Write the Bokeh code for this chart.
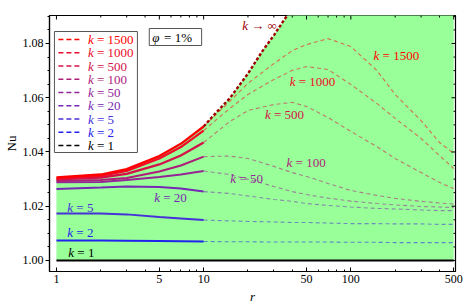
from bokeh.plotting import figure
from bokeh.models import (Range1d, LinearScale, FixedTicker, PrintfTickFormatter,
                          ColumnDataSource)
from bokeh.core.properties import value
from bokeh.embed import file_html
from bokeh.resources import INLINE

FONT = "Liberation Serif"

# ---------------- data ----------------
K_VALUES = [1500, 1000, 500, 100, 50, 20, 5, 2, 1]
K_COLORS = ["#FF0000", "#EE0A28", "#D41048", "#AE1C7A", "#952496",
            "#7628B4", "#4630D8", "#2222EE", "#000000"]

R_SOLID = [1, 2, 3, 5, 7, 10]
NU_1500_SOLID = [1.0306, 1.0317, 1.0337, 1.0385, 1.0430, 1.0494]
NU_1000_SOLID = [1.0302, 1.0312, 1.0330, 1.0376, 1.0418, 1.0479]
NU_500_SOLID = [1.0299, 1.0306, 1.0319, 1.0354, 1.0387, 1.0435]
NU_100_SOLID = [1.0293, 1.0297, 1.0304, 1.0328, 1.0350, 1.0383]
NU_50_SOLID = [1.0288, 1.0289, 1.0297, 1.0308, 1.0317, 1.0330]
NU_20_SOLID = [1.0264, 1.0269, 1.0273, 1.0271, 1.0265, 1.0254]
NU_5_SOLID = [1.0173, 1.0173, 1.0170, 1.0160, 1.0155, 1.0149]
NU_2_SOLID = [1.0074, 1.0074, 1.0073, 1.0072, 1.0071, 1.0070]

R_DASH = [10, 15, 20, 30, 40, 50, 70, 100, 150, 200, 300, 400, 500]
NU_1500_DASH = [1.0494, 1.0586, 1.0653, 1.0726, 1.0774, 1.0796, 1.0818, 1.0789, 1.0701, 1.0612, 1.0516, 1.0435, 1.0395]
NU_1000_DASH = [1.0479, 1.0560, 1.0612, 1.0667, 1.0701, 1.0715, 1.0704, 1.0649, 1.0579, 1.0524, 1.0450, 1.0387, 1.0339]
NU_500_DASH = [1.0435, 1.0512, 1.0553, 1.0575, 1.0583, 1.0568, 1.0527, 1.0476, 1.0420, 1.0376, 1.0324, 1.0288, 1.0265]
NU_100_DASH = [1.0383, 1.0385, 1.0376, 1.0347, 1.0324, 1.0310, 1.0284, 1.0258, 1.0240, 1.0229, 1.0218, 1.0212, 1.0208]
NU_50_DASH = [1.0330, 1.0317, 1.0299, 1.0273, 1.0254, 1.0243, 1.0230, 1.0219, 1.0210, 1.0205, 1.0199, 1.0197, 1.0195]
NU_20_DASH = [1.0254, 1.0247, 1.0238, 1.0225, 1.0218, 1.0210, 1.0203, 1.0197, 1.0192, 1.0190, 1.0186, 1.0184, 1.0184]
NU_5_DASH = [1.0149, 1.0146, 1.0144, 1.0142, 1.0140, 1.0140, 1.0138, 1.0136, 1.0136, 1.0135, 1.0135, 1.0133, 1.0133]
NU_2_DASH = [1.0070, 1.0069, 1.0069, 1.0068, 1.0068, 1.0068, 1.0068, 1.0067, 1.0067, 1.0066, 1.0066, 1.0066, 1.0066]

R_K1 = [1, 500]
NU_K1 = [1.0, 1.0]

R_INF = [10, 12, 15, 20, 25, 30, 35, 40]
NU_INF = [1.0494, 1.0542, 1.0597, 1.0689, 1.0771, 1.0830, 1.0885, 1.0929]

X_TICKS = [1, 5, 10, 50, 100, 500]
X_MINOR = [2, 3, 4, 6, 7, 8, 9, 20, 30, 40, 60, 70, 80, 90, 200, 300, 400]
Y_TICKS = [1.00, 1.02, 1.04, 1.06, 1.08]
Y_MINOR = [1.005, 1.01, 1.015, 1.025, 1.03, 1.035, 1.045, 1.05, 1.055,
           1.065, 1.07, 1.075, 1.085, 1.09]

# curve labels: text after the italic k, left edge r, vertical centre Nu
LABEL_TEXT = ["= 1500", "= 1000", "= 500", "= 100", "= 50", "= 20", "= 5", "= 2", "= 1", "\u2192 \u221e"]
LABEL_R = [142.7, 38.4, 26.07, 36.6, 15.18, 4.62, 1.185, 1.185, 1.204, 18.27]
LABEL_NU = [1.0756, 1.0660, 1.0538, 1.0361, 1.0302, 1.0232, 1.0195, 1.0103, 1.0029, 1.0866]
LABEL_COLORS = K_COLORS + ["#A00000"]

SOLID = {1500: NU_1500_SOLID, 1000: NU_1000_SOLID, 500: NU_500_SOLID, 100: NU_100_SOLID,
         50: NU_50_SOLID, 20: NU_20_SOLID, 5: NU_5_SOLID, 2: NU_2_SOLID}
DASH = {1500: NU_1500_DASH, 1000: NU_1000_DASH, 500: NU_500_DASH, 100: NU_100_DASH,
        50: NU_50_DASH, 20: NU_20_DASH, 5: NU_5_DASH, 2: NU_2_DASH}
COLOR = dict(zip(K_VALUES, K_COLORS))

# ---------------- figure ----------------
FW, FH = 411, 256
p = figure(width=463, height=306, x_axis_type="log",
           x_range=Range1d(0.897, 514), y_range=Range1d(0.99594, 1.09032),
           output_backend="svg", toolbar_location=None,
           min_border_left=44, min_border_right=8, min_border_top=15, min_border_bottom=35,
           background_fill_color="white", border_fill_color="white")
p.xgrid.visible = False
p.ygrid.visible = False
p.outline_line_color = "black"
p.outline_line_width = 1.2

p.extra_x_ranges = {"px": Range1d(0, FW)}
p.extra_y_ranges = {"px": Range1d(FH, 0)}
p.extra_x_scales = {"px": LinearScale()}
p.extra_y_scales = {"px": LinearScale()}

# green region
fill_r = R_SOLID + R_INF[1:] + [500]
fill_top = NU_1500_SOLID + NU_INF[1:] + [NU_INF[-1]]
p.varea(x=fill_r, y1=[1.0] * len(fill_r), y2=fill_top, fill_color="#99FF99")

# dashed continuation
for k in [2, 5, 20, 50, 100, 500, 1000, 1500]:
    p.line(R_DASH, DASH[k], line_color=COLOR[k], line_width=1.1, line_dash="4 3", line_alpha=0.55)
# solid parts
for k in [2, 5, 20, 50, 100, 500, 1000, 1500]:
    p.line(R_SOLID, SOLID[k], line_color=COLOR[k], line_width=2.3 if k >= 500 else 2.0)
p.line(R_INF, NU_INF, line_color="#A00000", line_width=2.4, line_dash="3 2")
p.line(R_K1, NU_K1, line_color="black", line_width=2.0)

# curve labels
lab = ColumnDataSource(dict(x=LABEL_R, y=LABEL_NU, t=LABEL_TEXT, c=LABEL_COLORS))
p.text(x="x", y="y", text=value("k"), source=lab, text_color="c", text_font=value(FONT),
       text_font_style="italic", text_font_size="13px", text_align="left", text_baseline="middle")
p.text(x="x", y="y", text="t", source=lab, text_color="c", text_font=value(FONT),
       text_font_size="13px", text_align="left", text_baseline="middle", x_offset=9)

# legend (in frame pixel coordinates)
row_y = [24 + 13.25 * i for i in range(len(K_VALUES))]
p.quad(left=5, right=89, top=16, bottom=137, fill_color="white", line_color="#555555",
       line_width=1, x_range_name="px", y_range_name="px")
leg = ColumnDataSource(dict(y=row_y, c=K_COLORS, t=["= %d" % k for k in K_VALUES]))
p.segment(x0=9, x1=31, y0="y", y1="y", source=leg, line_color="c", line_width=1.3,
          line_dash="5 3", x_range_name="px", y_range_name="px")
p.text(x=39, y="y", text=value("k"), source=leg, text_color="c", text_font=value(FONT),
       text_font_style="italic", text_font_size="13px", text_align="left", text_baseline="middle",
       x_range_name="px", y_range_name="px")
p.text(x=48, y="y", text="t", source=leg, text_color="c", text_font=value(FONT),
       text_font_size="13px", text_align="left", text_baseline="middle",
       x_range_name="px", y_range_name="px")

# phi box
p.quad(left=101, right=154, top=13, bottom=30, fill_color="white", line_color="#555555",
       line_width=1, x_range_name="px", y_range_name="px")
p.text(x=[104], y=[21.5], text=["\u03c6"], text_color="black", text_font=value(FONT),
       text_font_style="italic", text_font_size="13px", text_align="left", text_baseline="middle",
       x_range_name="px", y_range_name="px")
p.text(x=[116], y=[21.5], text=["= 1%"], text_color="black", text_font=value(FONT),
       text_font_size="13px", text_align="left", text_baseline="middle",
       x_range_name="px", y_range_name="px")

# frame ticks on top and right (inward)
p.segment(x0=X_TICKS, x1=X_TICKS, y0=0, y1=4, line_color="black", line_width=1,
          y_range_name="px")
p.segment(x0=X_MINOR, x1=X_MINOR, y0=0, y1=2, line_color="black", line_width=1,
          y_range_name="px")
p.segment(x0=FW - 4, x1=FW, y0=Y_TICKS, y1=Y_TICKS, line_color="black", line_width=1,
          x_range_name="px")
p.segment(x0=FW - 2, x1=FW, y0=Y_MINOR, y1=Y_MINOR, line_color="black", line_width=1,
          x_range_name="px")

# axes
def style(ax):
    ax.axis_line_color = "black"
    ax.axis_line_width = 1.2
    ax.major_tick_line_color = "black"
    ax.minor_tick_line_color = "black"
    ax.major_label_text_font = FONT
    ax.major_label_text_font_size = "12px"
    ax.major_label_text_color = "black"
    ax.major_label_standoff = 3
    ax.axis_label_text_font = FONT
    ax.axis_label_text_font_size = "13px"
    ax.axis_label_text_color = "black"

xb = p.xaxis[0]
xb.ticker = FixedTicker(ticks=X_TICKS, minor_ticks=X_MINOR)
xb.formatter = PrintfTickFormatter(format="%d")
style(xb)
xb.major_tick_in, xb.major_tick_out = 4, 0
xb.minor_tick_in, xb.minor_tick_out = 2, 0
xb.axis_label = "r"
xb.axis_label_text_font_style = "italic"
xb.axis_label_standoff = 3

yl = p.yaxis[0]
yl.ticker = FixedTicker(ticks=Y_TICKS, minor_ticks=Y_MINOR)
yl.formatter = PrintfTickFormatter(format="%.2f")
style(yl)
yl.major_tick_in, yl.major_tick_out = 0, 4
yl.minor_tick_in, yl.minor_tick_out = 0, 2
yl.major_label_standoff = 2
yl.axis_label = "Nu"
yl.axis_label_text_font_style = "normal"
yl.axis_label_standoff = 1

open("out.html", "w").write(file_html(p, INLINE))
